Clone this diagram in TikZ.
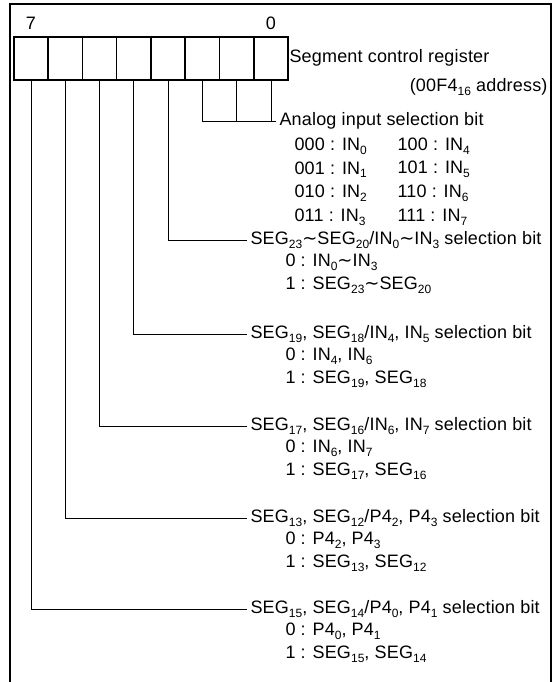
\documentclass[tikz,border=0pt]{standalone}
\usepackage{fontspec}
\setmainfont{Liberation Sans}[LetterSpace=1.0]
\newfontfamily\symfont{DejaVu Sans}
\usetikzlibrary{positioning}

\newcommand{\lo}[1]{\raisebox{-0.22em}{\fontsize{12pt}{12pt}\selectfont #1}}
\newcommand{\wave}{{\symfont ∼}}
\newcommand{\seg}[1]{SEG\lo{#1}}
\newcommand{\inp}[1]{IN\lo{#1}}
\newcommand{\pf}[1]{P4\lo{#1}}

\begin{document}
\begin{tikzpicture}[
    x=1pt, y=-1pt,
    every node/.style={font=\fontsize{18pt}{21pt}\selectfont},
    cell/.style={rectangle, draw, line width=1.6pt, minimum width=34.3pt, minimum height=43pt, inner sep=0pt},
    txt/.style={anchor=west},
    wire/.style={line width=0.8pt}
]
\useasboundingbox (0,0) rectangle (555,682);

% Frame
\draw[line width=1.8pt] (10,682) -- (10,4) -- (551,4) -- (551,682);

% Register cells, bit 7 on the left
\foreach \i in {0,...,7}
    \node[cell] (b\i) at ({271-34.3*\i}, 58.5) {};

\node[above=3pt of b7] (n7) {7};
\node[above=3pt of b0] (n0) {0};

\node[txt] (reg) at (286,58) {Segment control register};
\node[anchor=east] (addr) at (551,87) {(00F4\lo{16} address)};

% Analog input selection bits
\node[txt] (ana) at (276,121) {Analog input selection bit};
\draw[wire] (b2.south) |- (ana.west);
\draw[wire] (b1.south) -- (b1.south |- ana.west);
\draw[wire] (b0.south) -- (b0.south |- ana.west);

\foreach \c/\n [count=\k from 0] in {000/0, 001/1, 010/2, 011/3}
    \node[txt] (ca\n) at (291,{146+23.7*\k}) {\c\ : \inp{\n}};
\foreach \c/\n [count=\k from 0] in {100/4, 101/5, 110/6, 111/7}
    \node[txt] (cb\n) at (394,{146+23.7*\k}) {\c\ : \inp{\n}};

% Bit 3
\node[txt] (sel3) at (247,240) {\seg{23}\wave\seg{20}/\inp{0}\wave\inp{3} selection bit};
\node[txt] (z3) at (282,262) {0 : \inp{0}\wave\inp{3}};
\node[txt] (o3) at (282,285) {1 : \seg{23}\wave\seg{20}};
\draw[wire] (b3.south) |- (sel3.west);

% Bit 4
\node[txt] (sel4) at (247,334) {\seg{19}, \seg{18}/\inp{4}, \inp{5} selection bit};
\node[txt] (z4) at (282,356) {0 : \inp{4}, \inp{6}};
\node[txt] (o4) at (282,379) {1 : \seg{19}, \seg{18}};
\draw[wire] (b4.south) |- (sel4.west);

% Bit 5
\node[txt] (sel5) at (247,426) {\seg{17}, \seg{16}/\inp{6}, \inp{7} selection bit};
\node[txt] (z5) at (282,448) {0 : \inp{6}, \inp{7}};
\node[txt] (o5) at (282,471) {1 : \seg{17}, \seg{16}};
\draw[wire] (b5.south) |- (sel5.west);

% Bit 6
\node[txt] (sel6) at (247,518) {\seg{13}, \seg{12}/\pf{2}, \pf{3} selection bit};
\node[txt] (z6) at (282,540) {0 : \pf{2}, \pf{3}};
\node[txt] (o6) at (282,563) {1 : \seg{13}, \seg{12}};
\draw[wire] (b6.south) |- (sel6.west);

% Bit 7
\node[txt] (sel7) at (247,609) {\seg{15}, \seg{14}/\pf{0}, \pf{1} selection bit};
\node[txt] (z7) at (282,631) {0 : \pf{0}, \pf{1}};
\node[txt] (o7) at (282,654) {1 : \seg{15}, \seg{14}};
\draw[wire] (b7.south) |- (sel7.west);

\end{tikzpicture}
\end{document}
